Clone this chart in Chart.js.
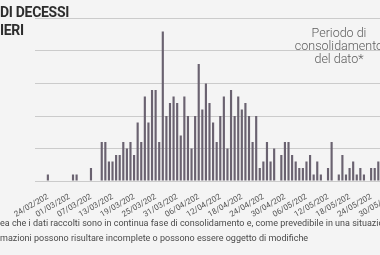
<!DOCTYPE html>
<html>
<head>
<meta charset="utf-8">
<script src="https://cdn.jsdelivr.net/npm/chart.js@4.4.0/dist/chart.umd.min.js"></script>
<style>
  html, body { margin: 0; padding: 0; background: #f4f4f4; }
  #wrap { position: relative; width: 380px; height: 255px; overflow: hidden; background: #f4f4f4; font-family: Roboto, sans-serif; }
  #chart { position: absolute; left: 0; top: 0; }
  .title { position: absolute; left: 0; font-weight: 700; font-size: 14px; color: #2d2d2d; letter-spacing: -0.3px; line-height: 18px; white-space: nowrap; }
  .nota { position: absolute; left: 279px; width: 120px; text-align: center; font-size: 12.5px; font-weight: 300; color: #5c5c5c; line-height: 12.8px; }
  .foot { position: absolute; left: 0; font-size: 9px; color: #4a4a4a; white-space: nowrap; line-height: 15px; }
</style>
</head>
<body>
<div id="wrap">
  <canvas id="chart" width="440" height="255"></canvas>
  <div class="title" style="top:3px">DI DECESSI<br>IERI</div>
  <div class="nota" style="top:27px">Periodo di<br>consolidamento<br>del dato*</div>
  <div class="foot" style="top:216px">ea che i dati raccolti sono in continua fase di consolidamento e, come prevedibile in una situazion</div>
  <div class="foot" style="top:231px">mazioni possono risultare incomplete o possono essere oggetto di modifiche</div>
</div>
<script>
// giorni dal 21/02/2020
const primoGiorno = new Date(2020, 1, 21);
const numGiorni = 111;

// etichette visibili sull'asse (anno troncato come nell'originale)
const tickLabels = ['24/02/202', '01/03/202', '07/03/202', '13/03/202', '19/03/202', '25/03/202',
  '31/03/202', '06/04/202', '12/04/202', '18/04/202', '24/04/202', '30/04/202', '06/05/202',
  '12/05/202', '18/05/202', '24/05/202', '30/05/202', '05/06/202'];

// decessi giornalieri dal 21/02
const decessi = [0, 0, 0,
  1, 0, 0, 0, 0, 0, 0, 1, 1, 0, 0, 0, 2, 0, 0,
  6, 6, 3, 3, 4, 4, 6, 5, 6, 4, 9, 6, 13, 9, 14, 14, 6, 23,
  10, 12, 13, 12, 7, 13, 10, 5, 10, 18, 11, 15, 12, 9, 6, 10, 13, 5, 14,
  10, 13, 11, 12, 10, 6, 10, 2, 3, 6, 3, 5, 0, 4, 6, 6, 4, 3, 2, 2,
  3, 4, 1, 3, 1, 0, 2, 6, 0, 1, 4, 1, 2, 3, 1, 2, 1, 0, 2, 2, 3];

const categorie = [];
for (let i = 0; i < numGiorni; i++) {
  const d = new Date(primoGiorno.getFullYear(), primoGiorno.getMonth(), primoGiorno.getDate() + i);
  const dd = String(d.getDate()).padStart(2, '0');
  const mm = String(d.getMonth() + 1).padStart(2, '0');
  categorie.push(dd + '/' + mm + '/202');
}

const passo = 3.62;   // px per giorno
const sinistra = 35.3;

new Chart(document.getElementById('chart'), {
  type: 'bar',
  data: {
    labels: categorie,
    datasets: [{
      label: 'Decessi',
      data: decessi,
      backgroundColor: '#6a6270',
      barPercentage: 0.6,
      categoryPercentage: 1
    }]
  },
  options: {
    responsive: false,
    animation: false,
    layout: { padding: { left: sinistra, top: 18.5, right: 440 - sinistra - numGiorni * passo, bottom: 0 } },
    plugins: { legend: { display: false }, tooltip: { enabled: false } },
    scales: {
      x: {
        grid: { display: false },
        border: { display: false },
        afterFit: s => { s.height = 74; },
        ticks: {
          autoSkip: false,
          minRotation: 30,
          maxRotation: 30,
          padding: 3,
          color: '#555',
          font: { family: 'Roboto', size: 8 },
          callback: function (v) {
            const l = this.getLabelForValue(v);
            return tickLabels.includes(l) ? l : '';
          }
        }
      },
      y: {
        min: 0,
        max: 25,
        afterFit: s => { s.width = 0; },
        ticks: { display: false, stepSize: 5 },
        border: { display: false },
        grid: { color: '#cbcbcb', lineWidth: 1, drawTicks: false }
      }
    }
  }
});
</script>
</body>
</html>
